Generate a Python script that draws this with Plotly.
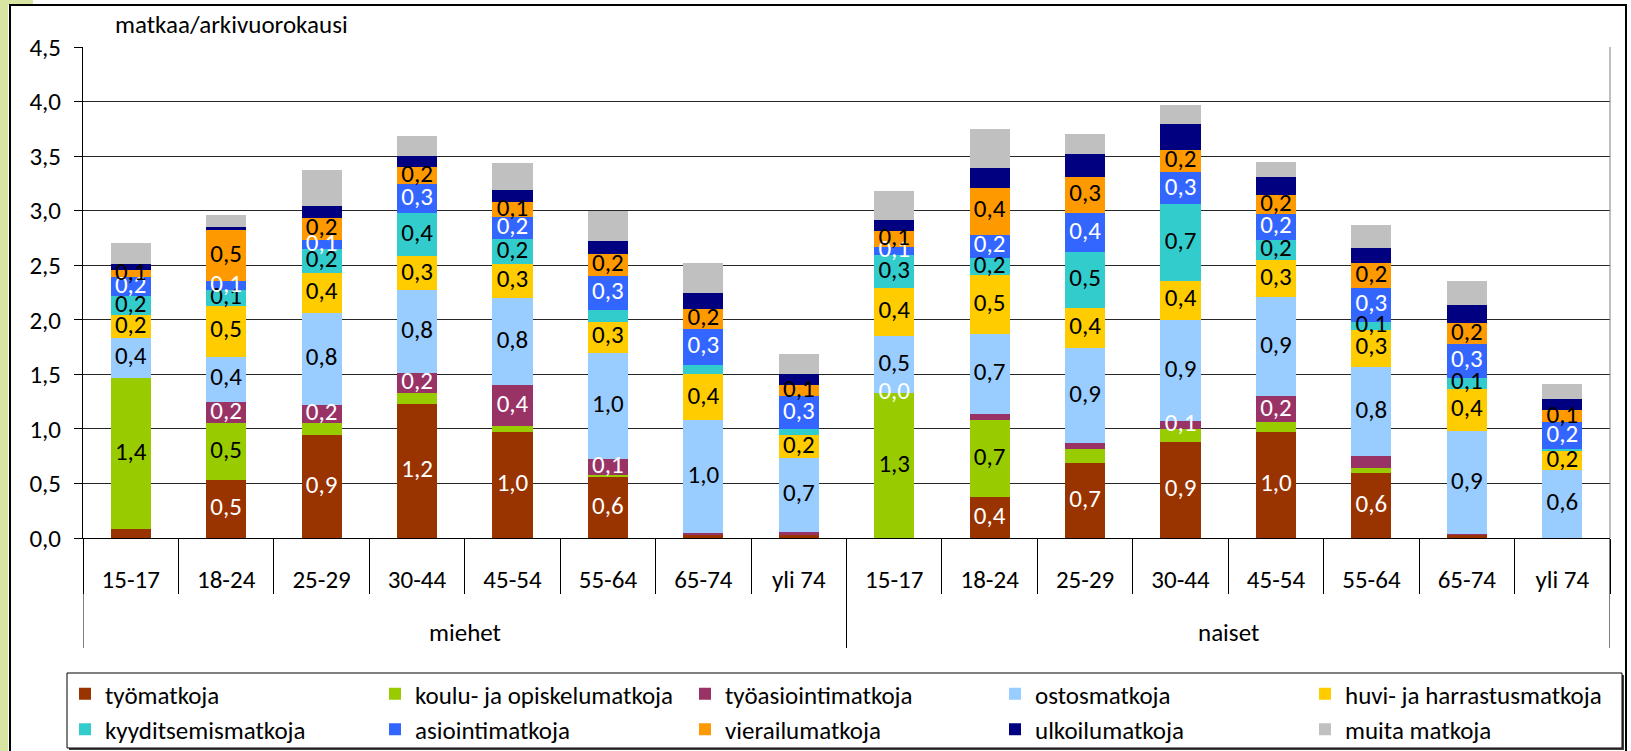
import numpy as np
import plotly.graph_objects as go

# ---------------- data ----------------
groups = ["miehet", "naiset"]
ages = ["15-17", "18-24", "25-29", "30-44", "45-54", "55-64", "65-74", "yli 74"]

series_names = ["työmatkoja", "koulu- ja opiskelumatkoja", "työasiointimatkoja", "ostosmatkoja",
                "huvi- ja harrastusmatkoja", "kyyditsemismatkoja", "asiointimatkoja",
                "vierailumatkoja", "ulkoilumatkoja", "muita matkoja"]

tyomatkoja = [0.08, 0.53, 0.94, 1.23, 0.97, 0.56, 0.03, 0.03, 0.00, 0.38, 0.69, 0.88, 0.97, 0.60, 0.03, 0.00]
koulumatkoja = [1.39, 0.52, 0.11, 0.10, 0.06, 0.02, 0.00, 0.00, 1.33, 0.70, 0.13, 0.12, 0.09, 0.04, 0.00, 0.00]
tyoasiointimatkoja = [0.00, 0.20, 0.17, 0.18, 0.37, 0.14, 0.02, 0.025, 0.00, 0.06, 0.05, 0.07, 0.24, 0.11, 0.01, 0.00]
ostosmatkoja = [0.36, 0.41, 0.84, 0.76, 0.80, 0.98, 1.03, 0.68, 0.52, 0.73, 0.87, 0.93, 0.91, 0.82, 0.94, 0.62]
huvimatkoja = [0.21, 0.47, 0.37, 0.31, 0.31, 0.28, 0.42, 0.21, 0.44, 0.54, 0.37, 0.36, 0.34, 0.34, 0.39, 0.18]
kyyditsemismatkoja = [0.18, 0.14, 0.22, 0.40, 0.23, 0.11, 0.09, 0.055, 0.30, 0.16, 0.51, 0.70, 0.18, 0.07, 0.10, 0.02]
asiointimatkoja = [0.17, 0.09, 0.08, 0.26, 0.20, 0.31, 0.33, 0.30, 0.08, 0.21, 0.36, 0.29, 0.24, 0.31, 0.31, 0.24]
vierailumatkoja = [0.07, 0.46, 0.20, 0.16, 0.14, 0.20, 0.18, 0.10, 0.14, 0.43, 0.33, 0.21, 0.17, 0.23, 0.19, 0.11]
ulkoilumatkoja = [0.05, 0.03, 0.11, 0.10, 0.11, 0.12, 0.15, 0.10, 0.10, 0.18, 0.21, 0.23, 0.165, 0.14, 0.165, 0.10]
muita_matkoja = [0.19, 0.11, 0.33, 0.18, 0.25, 0.275, 0.27, 0.19, 0.27, 0.36, 0.18, 0.18, 0.14, 0.21, 0.22, 0.14]

# which data labels are displayed (1 = shown)
show_tyo = [0, 1, 1, 1, 1, 1, 0, 0, 0, 1, 1, 1, 1, 1, 0, 0]
show_koulu = [1, 1, 0, 0, 0, 0, 0, 0, 1, 1, 0, 0, 0, 0, 0, 0]
show_tyoasiointi = [0, 1, 1, 1, 1, 1, 0, 0, 1, 0, 0, 1, 1, 0, 0, 0]
show_ostos = [1] * 16
show_huvi = [1] * 16
show_kyyd = [1, 1, 1, 1, 1, 0, 0, 0, 1, 1, 1, 1, 1, 1, 1, 0]
show_asiointi = [1] * 16
show_vierailu = [1] * 16
show_ulkoilu = [0] * 16
show_muita = [0] * 16

# ---------------- styling ----------------
colors = ["#993300", "#99CC00", "#993366", "#99CCFF", "#FFCC00",
          "#33CCCC", "#3366FF", "#FF9900", "#000080", "#C0C0C0"]
label_colors = ["white", "black", "white", "black", "black",
                "black", "white", "black", "black", "black"]
FONT = "Carlito, Lato, sans-serif"
FS = 25

all_values = [tyomatkoja, koulumatkoja, tyoasiointimatkoja, ostosmatkoja, huvimatkoja,
              kyyditsemismatkoja, asiointimatkoja, vierailumatkoja, ulkoilumatkoja, muita_matkoja]
all_show = [show_tyo, show_koulu, show_tyoasiointi, show_ostos, show_huvi,
            show_kyyd, show_asiointi, show_vierailu, show_ulkoilu, show_muita]

n = len(groups) * len(ages)
xidx = list(range(n))
ticktext = ages * len(groups)

# pixel helpers for layout decorations
W, H = 1631, 751
L, R, T, B = 83, 1610, 47, 538


def px_x(x):
    return (x - L) / (R - L)


def px_y(y):
    return (B - y) / (B - T)


fig = go.Figure()

base = np.zeros(n)
label_traces = []
for name, vals, col, lcol, show in zip(series_names, all_values, colors, label_colors, all_show):
    v = np.array(vals, dtype=float)
    fig.add_trace(go.Bar(x=xidx, y=v, name=name, marker=dict(color=col, line=dict(width=0)),
                         hoverinfo="y+name"))
    mids = base + v / 2
    texts = [(f"{val:.1f}".replace(".", ",") if s else "") for val, s in zip(v, show)]
    label_traces.append(go.Scatter(x=xidx, y=mids, mode="text", text=texts,
                                   textposition="middle center",
                                   textfont=dict(color=lcol, size=FS, family=FONT),
                                   showlegend=False, hoverinfo="skip", cliponaxis=False))
    base = base + v

for tr in label_traces:
    fig.add_trace(tr)

shapes = []
# light green strip on the left
shapes.append(dict(type="rect", xref="paper", yref="paper", x0=px_x(0), x1=px_x(8),
                   y0=px_y(0), y1=px_y(H + 5), fillcolor="#D7E4A2", line=dict(width=0), layer="below"))
shapes.append(dict(type="rect", xref="paper", yref="paper", x0=px_x(0), x1=px_x(33),
                   y0=px_y(0), y1=px_y(5), fillcolor="#D7E4A2", line=dict(width=0), layer="below"))
# outer chart frame
shapes.append(dict(type="rect", xref="paper", yref="paper", x0=px_x(10), x1=px_x(1626),
                   y0=px_y(5), y1=px_y(H + 20), line=dict(color="black", width=2), layer="below"))
# plot-area right border
shapes.append(dict(type="line", xref="paper", yref="paper", x0=1, x1=1, y0=0, y1=1,
                   line=dict(color="#808080", width=1)))
# group dividers
for xb in [-0.5, len(ages) - 0.5, n - 0.5]:
    shapes.append(dict(type="line", xref="x", yref="paper", x0=xb, x1=xb,
                       y0=0, y1=px_y(648), line=dict(color="black", width=1)))
# legend box with shadow
shapes.append(dict(type="rect", xref="paper", yref="paper", x0=px_x(69), x1=px_x(1624),
                   y0=px_y(675), y1=px_y(750), fillcolor="#404040", line=dict(width=0), layer="below"))
shapes.append(dict(type="rect", xref="paper", yref="paper", x0=px_x(67), x1=px_x(1622),
                   y0=px_y(673), y1=px_y(748), fillcolor="white",
                   line=dict(color="black", width=1), layer="below"))

annotations = [
    dict(text="matkaa/arkivuorokausi", xref="paper", yref="paper", x=px_x(113), y=px_y(24),
         xanchor="left", yanchor="middle", showarrow=False, font=dict(size=FS, color="black", family=FONT)),
]
for gi, g in enumerate(groups):
    annotations.append(dict(text=g, xref="x", yref="paper", x=gi * len(ages) + (len(ages) - 1) / 2,
                            y=px_y(632), xanchor="center", yanchor="middle", showarrow=False,
                            font=dict(size=FS, color="black", family=FONT)))

fig.update_layout(
    width=W, height=H,
    margin=dict(l=L, r=W - R, t=T, b=H - B, autoexpand=False),
    paper_bgcolor="white", plot_bgcolor="white",
    barmode="stack", bargap=0.58,
    separators=", ",
    font=dict(family=FONT, size=FS, color="black"),
    showlegend=True,
    legend=dict(orientation="h", x=px_x(65), xanchor="left", y=px_y(671), yanchor="top",
                bgcolor="rgba(0,0,0,0)", borderwidth=0, traceorder="normal",
                entrywidth=265, entrywidthmode="pixels",
                font=dict(size=FS, color="black", family=FONT)),
    shapes=shapes,
    annotations=annotations,
    xaxis=dict(range=[-0.5, n - 0.5], tickmode="array", tickvals=xidx, ticktext=ticktext,
               ticks="outside", ticklen=19, tickcolor="rgba(0,0,0,0)",
               showline=True, linecolor="black", linewidth=1, showgrid=False, zeroline=False,
               tickfont=dict(size=FS, color="black", family=FONT),
               minor=dict(tickmode="linear", tick0=-0.5, dtick=1, ticks="outside", ticklen=55,
                          tickcolor="black", tickwidth=1, showgrid=False)),
    yaxis=dict(range=[0, 4.5], tickmode="linear", tick0=0, dtick=0.5, tickformat=".1f",
               ticks="outside", ticklen=8, tickcolor="black", showline=True, linecolor="black",
               linewidth=1, showgrid=True, gridcolor="#262626", gridwidth=1, zeroline=False,
               ticklabelstandoff=8,
               tickfont=dict(size=FS, color="black", family=FONT)),
)

fig.write_html("out.html", config={"displayModeBar": False},
               post_script="document.body.style.margin='0';")
